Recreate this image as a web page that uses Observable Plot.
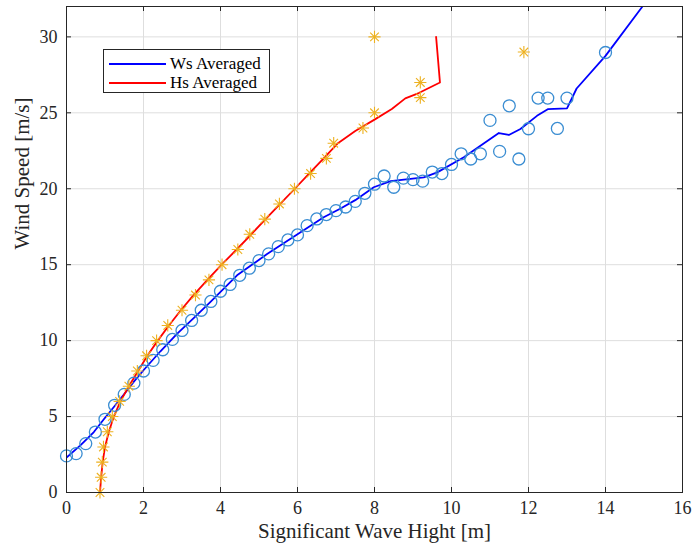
<!DOCTYPE html>
<html><head><meta charset="utf-8">
<script src="https://cdn.jsdelivr.net/npm/d3@7"></script>
<script src="https://cdn.jsdelivr.net/npm/@observablehq/plot@0.6"></script>
<style>
body{margin:0;background:#fff;}
#wrap{position:relative;width:693px;height:550px;}
#wrap svg text{font-family:"Liberation Serif","Times New Roman",serif;}
#legend{position:absolute;left:103px;top:49px;width:165px;height:42px;border:1px solid #262626;background:#fff;font-family:"Liberation Serif","Times New Roman",serif;font-size:17px;color:#000;}
.row{position:absolute;left:5px;height:19px;display:flex;align-items:center;white-space:nowrap;}
.sw{width:57px;height:2px;margin-right:4px;}
</style></head><body>
<div id="wrap"><div id="legend">
<div class="row" style="top:4px"><div class="sw" style="background:#0000ff"></div>Ws Averaged</div>
<div class="row" style="top:23px"><div class="sw" style="background:#ff0000"></div>Hs Averaged</div>
</div></div>
<script>
// Tick values
const xTicks = [0, 2, 4, 6, 8, 10, 12, 14, 16];
const yTicks = [0, 5, 10, 15, 20, 25, 30];

// Wind speed scatter (blue circles): wave height bins and wind speed
const wsHs = [0,0.25,0.5,0.75,1,1.25,1.5,1.75,2,2.25,2.5,2.75,3,3.25,3.5,3.75,4,4.25,4.5,4.75,5,5.25,5.5,5.75,6,6.25,6.5,6.75,7,7.25,7.5,7.75,8,8.25,8.5,8.75,9,9.25,9.5,9.75,10,10.25,10.5,10.75,11,11.25,11.5,11.75,12,12.25,12.5,12.75,13,14];
const wsWind = [2.41,2.56,3.22,3.98,4.82,5.74,6.46,7.2,8.0,8.7,9.4,10.08,10.67,11.33,12.0,12.58,13.25,13.7,14.3,14.77,15.27,15.71,16.19,16.63,16.96,17.57,18.01,18.3,18.56,18.8,19.17,19.7,20.3,20.84,20.1,20.7,20.6,20.5,21.1,21.0,21.6,22.3,21.96,22.3,24.5,22.46,25.46,21.96,23.95,25.97,25.97,23.97,25.97,28.97];

// Wave height scatter (orange asterisks): wind speed bins and wave height
const hsWind = [0,1,2,3,4,5,6,7,8,9,10,11,12,13,14,15,16,17,18,19,20,21,22,23,24,25,26,27,29,30];
const hsHs = [0.87,0.9,0.93,0.96,1.06,1.19,1.38,1.62,1.84,2.08,2.34,2.63,3.0,3.35,3.7,4.04,4.45,4.76,5.15,5.53,5.92,6.34,6.75,6.94,7.7,8.0,9.19,9.19,11.88,8.0];

// Ws averaged (blue line)
const wsAvgHs = [0,0.36,0.71,0.97,1.23,1.49,1.75,2.0,2.44,2.87,3.31,3.74,4.43,5.21,5.99,6.68,7.12,7.5,7.98,8.42,9.28,9.63,10.32,11.23,11.49,11.79,12.22,12.5,13.0,13.25,14.0,14.95];
const wsAvgWind = [2.3,3.1,3.98,4.82,5.63,6.45,7.3,8.05,9.3,10.45,11.5,12.55,14.3,15.7,16.98,18.12,18.7,19.25,20.1,20.5,20.75,21.08,22.07,23.67,23.54,23.93,24.8,25.24,25.29,26.6,28.75,31.97];

// Hs averaged (red line)
const hsAvgHs = [0.87,0.9,0.94,1.0,1.1,1.23,1.4,1.62,1.86,2.1,2.37,2.66,2.97,3.3,3.66,4.03,4.42,4.8,5.17,5.55,5.93,6.3,6.68,7.05,7.5,8.0,8.45,8.8,9.15,9.7,9.6];
const hsAvgWind = [0,1,2,3,4,5,6,7,8,9,10,11,12,13,14,15,16,17,18,19,20,21,22,23,23.8,24.55,25.25,25.95,26.3,27.0,30];

const ws = wsHs.map((x, i) => ({x, y: wsWind[i]}));
const hs = hsHs.map((x, i) => ({x, y: hsWind[i]}));
const wsAvg = wsAvgHs.map((x, i) => ({x, y: wsAvgWind[i]}));
const hsAvg = hsAvgHs.map((x, i) => ({x, y: hsAvgWind[i]}));

const W = 693, H = 550, mL = 66, mR = 11, mT = 6, mB = 58;
const innerW = W - mL - mR, innerH = H - mT - mB, tk = 5;
const axisColor = "#262626";
const serif = "Liberation Serif";

const chart = Plot.plot({
  width: W, height: H,
  marginLeft: mL, marginRight: mR, marginTop: mT, marginBottom: mB,
  style: "font-family: 'Liberation Serif', serif; font-size: 18px; color: #262626; background: white;",
  x: {domain: [0, 16]},
  y: {domain: [0, 32]},
  marks: [
    Plot.gridX(xTicks, {stroke: "#dedede", strokeOpacity: 1}),
    Plot.gridY(yTicks, {stroke: "#dedede", strokeOpacity: 1}),
    Plot.line(wsAvg, {x: "x", y: "y", stroke: "#0000ff", strokeWidth: 1.8, clip: true}),
    Plot.line(hsAvg, {x: "x", y: "y", stroke: "#ff0000", strokeWidth: 1.8, clip: true}),
    Plot.dot(ws, {x: "x", y: "y", r: 6, stroke: "#3a8dd2", strokeWidth: 1.3, fill: "none"}),
    Plot.dot(hs, {x: "x", y: "y", symbol: "plus", r: 4, stroke: "#EDB120", strokeWidth: 1.1}),
    Plot.dot(hs, {x: "x", y: "y", symbol: "times", r: 4, stroke: "#EDB120", strokeWidth: 1.1}),
    Plot.axisX(xTicks, {tickSize: 0, tickPadding: 9, label: null, fontSize: 18, fontFamily: serif}),
    Plot.axisY(yTicks, {tickSize: 0, tickPadding: 9, label: null, fontSize: 18, fontFamily: serif}),
    Plot.tickX(xTicks, {x: d => d, insetTop: innerH - tk, stroke: axisColor}),
    Plot.tickX(xTicks, {x: d => d, insetBottom: innerH - tk, stroke: axisColor}),
    Plot.tickY(yTicks, {y: d => d, insetRight: innerW - tk, stroke: axisColor}),
    Plot.tickY(yTicks, {y: d => d, insetLeft: innerW - tk, stroke: axisColor}),
    Plot.frame({stroke: axisColor, strokeWidth: 1}),
    Plot.text(["Significant Wave Hight [m]"], {frameAnchor: "bottom", dy: 45, fontSize: 21, fontFamily: serif, fill: axisColor}),
    Plot.text(["Wind Speed [m/s]"], {frameAnchor: "left", dx: -44, rotate: -90, fontSize: 21, fontFamily: serif, fill: axisColor})
  ]
});
document.getElementById("wrap").prepend(chart);
</script>
</body></html>
